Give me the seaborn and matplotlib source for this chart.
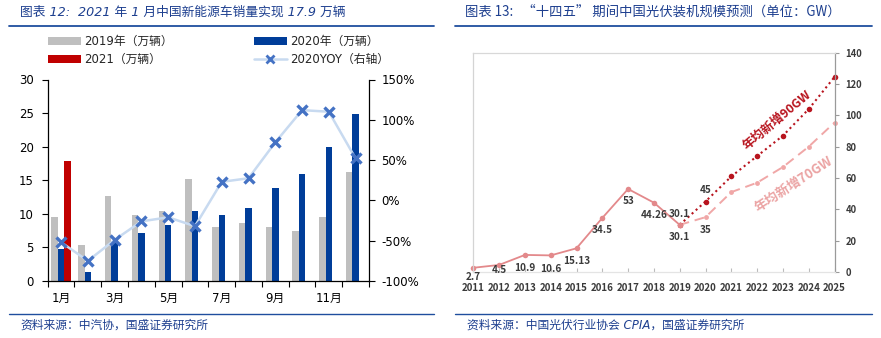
import numpy as np
import pandas as pd
import matplotlib
matplotlib.use("Agg")
import matplotlib.pyplot as plt
import seaborn as sns
from matplotlib.patches import Patch
from matplotlib.lines import Line2D

# ---------------- data: left chart ----------------
months = ["1月", "2月", "3月", "4月", "5月", "6月", "7月", "8月", "9月", "10月", "11月", "12月"]
sales_2019 = [9.6, 5.3, 12.6, 9.8, 10.4, 15.2, 8.0, 8.6, 8.0, 7.5, 9.5, 16.3]
sales_2020 = [4.7, 1.3, 5.6, 7.2, 8.3, 10.4, 9.8, 10.9, 13.8, 16.0, 20.0, 24.9]
sales_2021 = [17.9, None, None, None, None, None, None, None, None, None, None, None]
yoy_2020 = [-0.52, -0.75, -0.49, -0.26, -0.21, -0.32, 0.23, 0.275, 0.72, 1.12, 1.10, 0.52]
series_names = ["2019年（万辆）", "2020年（万辆）", "2021（万辆）"]
yoy_name = "2020YOY（右轴）"
month_tick_labels = ["1月", "3月", "5月", "7月", "9月", "11月"]
left_yticks = [0, 5, 10, 15, 20, 25, 30]
yoy_ticks = [-1.0, -0.5, 0.0, 0.5, 1.0, 1.5]
yoy_tick_labels = ["-100%", "-50%", "0%", "50%", "100%", "150%"]

# ---------------- data: right chart ----------------
hist_years = [2011, 2012, 2013, 2014, 2015, 2016, 2017, 2018, 2019]
hist_values = [2.7, 4.5, 10.9, 10.6, 15.13, 34.5, 53, 44.26, 30.1]
proj_years = [2019, 2020, 2021, 2022, 2023, 2024, 2025]
proj_90 = [30.1, 45, 61, 74, 87, 104, 124.5]
proj_70 = [30.1, 35, 51, 57, 67, 80, 95.4]
year_ticks = [2011, 2012, 2013, 2014, 2015, 2016, 2017, 2018, 2019, 2020, 2021, 2022, 2023, 2024, 2025]
right_yticks = [0, 20, 40, 60, 80, 100, 120, 140]
label_90 = "年均新增90GW"
label_70 = "年均新增70GW"

title_left = "图表 12:  2021 年 1 月中国新能源车销量实现 17.9 万辆"
title_right = "图表 13:   “十四五” 期间中国光伏装机规模预测（单位：GW）"
source_left = "资料来源：中汽协，国盛证券研究所"
source_right = "资料来源：中国光伏行业协会 CPIA，国盛证券研究所"

# ---------------- style ----------------
sns.set_theme(style="white")
plt.rcParams["font.family"] = ["DejaVu Sans", "Noto Sans CJK SC"]
plt.rcParams["axes.unicode_minus"] = False

W, H = 881, 338
fig = plt.figure(figsize=(W / 100, H / 100), dpi=100)
fig.patch.set_facecolor("white")

def fx(px):
    return px / W

def fy(py):
    return 1 - py / H

navy = "#1D3F8F"
c19, c20, c21 = "#BFBFBF", "#003D99", "#C00000"

# ---------------- left chart ----------------
ax = fig.add_axes([fx(47.7), fy(281), fx(369) - fx(47.7), fy(79.5) - fy(281)])
rows = []
for name, vals in zip(series_names, [sales_2019, sales_2020, sales_2021]):
    for m, v in zip(months, vals):
        rows.append({"month": m, "series": name, "value": v})
bar_df = pd.DataFrame(rows).dropna()
sns.barplot(data=bar_df, x="month", y="value", hue="series", order=months,
            hue_order=series_names, palette=[c19, c20, c21], width=0.72, gap=0,
            saturation=1, errorbar=None, ax=ax, legend=False, linewidth=0)
ax.set_xlim(-0.5, len(months) - 0.5)
ax.set_ylim(0, 30)
ax.set_yticks(left_yticks)
ax.set_xticks(range(0, 12, 2))
ax.set_xticklabels(month_tick_labels)
ax.set_xticks(np.arange(-0.5, 12, 1), minor=True)
ax.tick_params(axis="x", which="major", length=0, pad=8, labelsize=8.5, colors="black")
ax.tick_params(axis="x", which="minor", length=4, width=0.8, direction="out", color="black", bottom=True)
ax.tick_params(axis="y", length=4, width=0.8, direction="out", left=True, pad=6, labelsize=8.5, colors="black")
ax.set_xlabel("")
ax.set_ylabel("")
for s in ["left", "bottom"]:
    ax.spines[s].set_color("black")
    ax.spines[s].set_linewidth(0.9)
ax.spines["top"].set_visible(False)
ax.spines["right"].set_visible(False)

ax2 = ax.twinx()
yoy_df = pd.DataFrame({"pos": np.arange(len(months)), "yoy": yoy_2020})
sns.lineplot(data=yoy_df, x="pos", y="yoy", ax=ax2, color="#C8DAF0", lw=1.8,
             marker="x", markersize=7.5, markeredgewidth=2.4, markeredgecolor="#4472C4",
             legend=False)
ax2.set_ylim(-1.0, 1.5)
ax2.set_yticks(yoy_ticks)
ax2.set_yticklabels(yoy_tick_labels)
ax2.set_ylabel("")
ax2.set_xlabel("")
ax2.tick_params(axis="y", length=4, width=0.8, direction="out", right=True, pad=5, labelsize=8.5, colors="black")
ax2.spines["right"].set_color("black")
ax2.spines["right"].set_linewidth(0.9)
for s in ["top", "left", "bottom"]:
    ax2.spines[s].set_visible(False)
ax2.set_xlim(-0.5, len(months) - 0.5)

handles = [Patch(facecolor=c19, edgecolor="none"),
           Patch(facecolor=c21, edgecolor="none"),
           Patch(facecolor=c20, edgecolor="none"),
           Line2D([0], [0], color="#C8DAF0", lw=1.8, marker="x", markersize=6,
                  markeredgewidth=2.0, markeredgecolor="#4472C4")]
labels = [series_names[0], series_names[2], series_names[1], yoy_name]
fig.legend(handles, labels, loc="upper left", bbox_to_anchor=(fx(48), fy(35)),
           ncol=2, frameon=False, fontsize=8.5, handlelength=2.8, handleheight=0.7,
           handletextpad=0.3, columnspacing=6.8, labelspacing=0.45, borderpad=0,
           borderaxespad=0)

# ---------------- right chart ----------------
ax3 = fig.add_axes([fx(473.3), fy(272), fx(834.5) - fx(473.3), fy(52.7) - fy(272)])
hist_df = pd.DataFrame({"year": hist_years, "value": hist_values})
df90 = pd.DataFrame({"year": proj_years, "value": proj_90})
df70 = pd.DataFrame({"year": proj_years, "value": proj_70})
sns.lineplot(data=df70, x="year", y="value", ax=ax3, color="#F0A7A7", lw=1.4,
             linestyle=(0, (5, 3)), marker="o", markersize=3.5, markeredgewidth=0,
             legend=False, clip_on=False)
sns.lineplot(data=df90, x="year", y="value", ax=ax3, color="#B8141E", lw=1.5,
             linestyle=(0, (1, 1.6)), marker="o", markersize=4, markeredgewidth=0,
             legend=False, clip_on=False)
sns.lineplot(data=hist_df, x="year", y="value", ax=ax3, color="#E3898B", lw=1.3,
             marker="o", markersize=4, markeredgewidth=0, legend=False, clip_on=False)
ax3.set_xlim(year_ticks[0], year_ticks[-1])
ax3.set_ylim(0, 140)
ax3.set_xticks(year_ticks)
ax3.set_xticklabels([str(y) for y in year_ticks])
ax3.set_yticks(right_yticks)
ax3.yaxis.tick_right()
ax3.set_xlabel("")
ax3.set_ylabel("")
num_font = ["Noto Sans CJK SC", "DejaVu Sans"]
for t in ax3.get_xticklabels() + ax3.get_yticklabels():
    t.set_family(num_font)
    t.set_fontweight("bold")
ax3.tick_params(axis="x", length=3, width=0.8, direction="in", color="#BBBBBB", bottom=True,
                pad=8, labelsize=7.0, colors="#3A3A3A")
ax3.tick_params(axis="x", color="#BBBBBB")
ax3.tick_params(axis="y", length=3, width=0.8, direction="out", right=True, left=False,
                pad=5, labelsize=6.8, colors="#3A3A3A")
ax3.tick_params(axis="y", color="#9A9A9A")
ax3.spines["bottom"].set_color("#E4E4E4")
ax3.spines["top"].set_color("#D8D8D8")
ax3.spines["left"].set_color("#D4D4D4")
ax3.spines["right"].set_color("#9A9A9A")
for s in ["top", "left", "right", "bottom"]:
    ax3.spines[s].set_linewidth(0.9)

lab_kw = dict(textcoords="offset points", ha="center", va="center", fontsize=7.2,
              color="#3A3A3A", family=num_font, fontweight="bold", annotation_clip=False)
hist_dy = [-6.5, -3.5, -9.5, -9.5, -9, -9, -9, -9, -8.5]
for x, v, dy in zip(hist_years, hist_values, hist_dy):
    ax3.annotate(f"{v:g}", (x, v), xytext=(0, dy), **lab_kw)
for x, v in zip(proj_years[:2], proj_90[:2]):
    ax3.annotate(f"{v:g}", (x, v), xytext=(0, 8), **lab_kw)
ax3.annotate(f"{proj_70[1]:g}", (proj_years[1], proj_70[1]), xytext=(0, -9), **lab_kw)

ax3.text(2022.76, 96.6, label_90, rotation=40, ha="center", va="center", fontsize=9,
         fontweight="bold", color="#B8141E", family=["Noto Sans CJK SC", "DejaVu Sans"])
ax3.text(2023.4, 56.2, label_70, rotation=33, ha="center", va="center", fontsize=9.5,
         fontweight="bold", color="#EBA3A3", family=["Noto Sans CJK SC", "DejaVu Sans"])

# ---------------- titles, rules, sources ----------------
ttl_kw = dict(color=navy, style="italic", va="center", ha="left")
fig.text(fx(20), fy(12), title_left, fontsize=9.2, **ttl_kw)
fig.text(fx(465), fy(12), title_right, fontsize=9.6,
         family=["Noto Sans CJK SC", "DejaVu Sans"], **ttl_kw)
for x0, x1 in [(9, 434), (455, 872)]:
    fig.add_artist(Line2D([fx(x0), fx(x1)], [fy(26), fy(26)], transform=fig.transFigure,
                          color="#1F4E9E", lw=1.3))
    fig.add_artist(Line2D([fx(x0), fx(x1)], [fy(314), fy(314)], transform=fig.transFigure,
                          color="#1F4E9E", lw=1.0))
src_kw = dict(fontsize=8.5, color=navy, style="italic", va="center", ha="left")
fig.text(fx(20), fy(325), source_left, **src_kw)
fig.text(fx(467), fy(325), source_right, **src_kw)

fig.savefig("out.png", dpi=100, facecolor="white")
